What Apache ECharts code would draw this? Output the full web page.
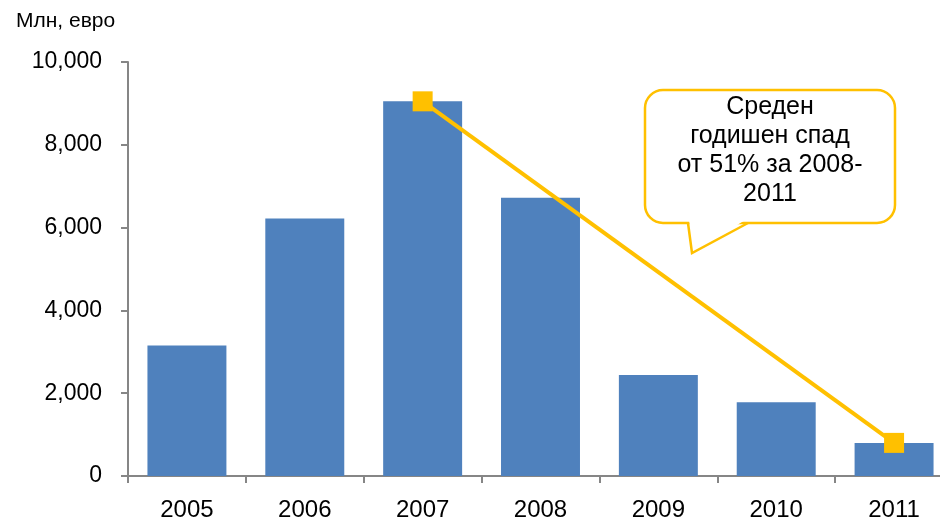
<!DOCTYPE html>
<html>
<head>
<meta charset="utf-8">
<script src="https://cdn.jsdelivr.net/npm/echarts@6/dist/echarts.min.js"></script>
<style>html,body{margin:0;padding:0;background:#fff}#c{width:940px;height:524px}</style>
</head>
<body>
<div id="c"></div>
<script>
const categories = ['2005', '2006', '2007', '2008', '2009', '2010', '2011'];
const investment = [3150, 6220, 9050, 6720, 2440, 1780, 800];
const trendLine = [null, null, 9050, null, null, null, 800];
const yTicks = [0, 2000, 4000, 6000, 8000, 10000];
const unitLabel = 'Млн, евро';
const calloutLines = ['Среден', 'годишен спад', 'от 51% за 2008-', '2011'];

const FONT = '"Liberation Sans", Arial, sans-serif';
const chart = echarts.init(document.getElementById('c'), null, { renderer: 'canvas' });
chart.setOption({
  animation: false,
  backgroundColor: '#fff',
  title: {
    text: unitLabel, left: 11, top: 6,
    textStyle: { fontFamily: FONT, fontSize: 21, fontWeight: 'normal', color: '#000' }
  },
  grid: { left: 128, top: 62, width: 825, height: 414, outerBoundsMode: 'none', containLabel: false },
  xAxis: {
    type: 'category', data: categories,
    axisLine: { lineStyle: { color: '#868686', width: 2 } },
    axisTick: { show: true, length: 7, lineStyle: { color: '#868686', width: 2 } },
    axisLabel: { fontFamily: FONT, fontSize: 24, color: '#000', margin: 22 }
  },
  yAxis: {
    type: 'value', min: yTicks[0], max: yTicks[yTicks.length - 1], interval: 2000,
    axisLine: { show: true, lineStyle: { color: '#868686', width: 2 } },
    axisTick: { show: true, length: 7, lineStyle: { color: '#868686', width: 2 } },
    splitLine: { show: false },
    axisLabel: {
      fontFamily: FONT, fontSize: 23, color: '#000', margin: 26,
      formatter: v => v.toLocaleString('en-US')
    }
  },
  series: [
    {
      type: 'bar', data: investment, barCategoryGap: '33%',
      itemStyle: { color: '#4F81BD' }
    },
    {
      type: 'line', data: trendLine, connectNulls: true,
      symbol: 'rect', symbolSize: 20, showAllSymbol: true,
      lineStyle: { color: '#FFC000', width: 4 },
      itemStyle: { color: '#FFC000', borderWidth: 0 },
      z: 5
    }
  ],
  graphic: [
    {
      type: 'rect', z: 10,
      shape: { x: 645, y: 90, width: 250, height: 133, r: 18 },
      style: { fill: '#fff', stroke: '#FFC000', lineWidth: 2.5 }
    },
    {
      type: 'polygon', z: 11,
      shape: { points: [[689, 219], [692, 252], [747, 219]] },
      style: { fill: '#fff' }
    },
    {
      type: 'polyline', z: 12,
      shape: { points: [[688, 223], [692, 253], [748, 223]] },
      style: { fill: null, stroke: '#FFC000', lineWidth: 2.5 }
    },
    {
      type: 'text', z: 13, x: 770, y: 93,
      style: {
        text: calloutLines.join('\n'), align: 'center',
        fontFamily: FONT, fontSize: 25, lineHeight: 29, fill: '#000'
      }
    }
  ]
});
</script>
</body>
</html>
